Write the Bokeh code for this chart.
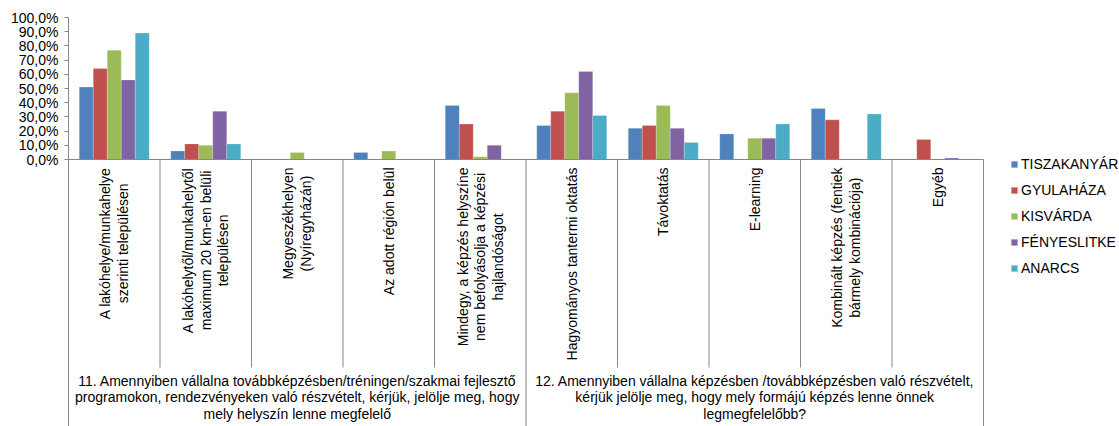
import math

from bokeh.core.properties import value
from bokeh.embed import file_html
from bokeh.models import (ColumnDataSource, CustomJSTickFormatter, FixedTicker,
                          Legend, LegendItem, Range1d)
from bokeh.plotting import figure
from bokeh.resources import INLINE

# --- data -------------------------------------------------------------------
categories = [
    "A lakóhelye/munkahelye\nszerinti településen",
    "A lakóhelytől/munkahelytől\nmaximum 20 km-en belüli\ntelepülésen",
    "Megyeszékhelyen\n(Nyíregyházán)",
    "Az adott régión belül",
    "Mindegy, a képzés helyszíne\nnem befolyásolja a képzési\nhajlandóságot",
    "Hagyományos tantermi oktatás",
    "Távoktatás",
    "E-learning",
    "Kombinált képzés (fentiek\nbármely kombinációja)",
    "Egyéb",
]
group_labels = [
    "11. Amennyiben vállalna továbbképzésben/tréningen/szakmai fejlesztő\n"
    "programokon, rendezvényeken való részvételt, kérjük, jelölje meg, hogy\n"
    "mely helyszín lenne megfelelő",
    "12. Amennyiben vállalna képzésben /továbbképzésben való részvételt,\n"
    "kérjük jelölje meg, hogy mely formájú képzés lenne önnek\n"
    "legmegfelelőbb?",
]
group_sizes = [5, 5]

series_names = ["TISZAKANYÁR", "GYULAHÁZA", "KISVÁRDA", "FÉNYESLITKE", "ANARCS"]
tiszakanyar = [51, 6, 0, 5, 38, 24, 22, 18, 36, 0]
gyulahaza = [64, 11, 0, 0, 25, 34, 24, 0, 28, 14]
kisvarda = [77, 10, 5, 6, 2, 47, 38, 15, 0, 0]
fenyeslitke = [56, 34, 0, 0, 10, 62, 22, 15, 0, 1]
anarcs = [89, 11, 0, 0, 0, 31, 12, 25, 32, 0]
series_values = [tiszakanyar, gyulahaza, kisvarda, fenyeslitke, anarcs]

y_ticks = list(range(0, 101, 10))

# --- styling / layout -------------------------------------------------------
colors = ["#4F81BD", "#C0504D", "#9BBB59", "#8064A2", "#4BACC6"]
FONT = "Liberation Sans"
AXIS_COLOR = "#868686"

W, H = 1119, 426
LEFT, TOP = 68, 17
CAT_PX = 91.5          # width of one category slot
PLOT_PX = 142          # height of the 0..100 % band
SEP_PX = 208           # depth of the separators between categories
BAR_W = 0.153          # bar width in category units

frame_w = W - LEFT
frame_h = H - TOP
px_per_unit = PLOT_PX / 100.0
y_start = -(frame_h - PLOT_PX) / px_per_unit
sep_bottom = -SEP_PX / px_per_unit
n_cat = len(categories)

p = figure(width=W, height=H, output_backend="svg", toolbar_location=None,
           x_range=Range1d(0, frame_w / CAT_PX), y_range=Range1d(y_start, 100),
           x_axis_location=None, min_border_left=LEFT, min_border_top=TOP,
           min_border_right=0, min_border_bottom=0)
p.outline_line_color = None
p.grid.visible = False
p.background_fill_color = "white"
p.border_fill_color = "white"

# y axis: its line also forms the left edge of the label table
ax = p.yaxis[0]
ax.ticker = FixedTicker(ticks=y_ticks, minor_ticks=[])
ax.formatter = CustomJSTickFormatter(
    code="return tick.toFixed(1).replace('.', ',') + '%';")
ax.axis_line_color = AXIS_COLOR
ax.major_tick_line_color = AXIS_COLOR
ax.major_tick_out = 4
ax.major_tick_in = 0
ax.major_label_standoff = 6
ax.major_label_text_font = FONT
ax.major_label_text_font_size = "14px"
ax.major_label_text_color = "#000000"

# grouped bars
renderers = []
for j, (name, vals) in enumerate(zip(series_names, series_values)):
    xs = [i + 0.5 + (j - (len(series_values) - 1) / 2) * BAR_W
          for i in range(n_cat)]
    src = ColumnDataSource(dict(x=xs, top=vals))
    r = p.vbar(x="x", top="top", bottom=0, width=BAR_W, source=src,
               fill_color=colors[j], line_color="white", line_alpha=0.35,
               line_width=0.6)
    renderers.append((name, r))

# category axis line and separators
p.segment(x0=[0], y0=[0], x1=[n_cat], y1=[0], line_color=AXIS_COLOR,
          line_width=1)
group_edges = []
acc = 0
for g in group_sizes:
    acc += g
    group_edges.append(acc)
inner = [k for k in range(1, n_cat) if k not in group_edges]
p.segment(x0=inner, y0=[0] * len(inner), x1=inner,
          y1=[sep_bottom] * len(inner), line_color=AXIS_COLOR, line_width=1)
p.segment(x0=group_edges, y0=[0] * len(group_edges), x1=group_edges,
          y1=[y_start] * len(group_edges), line_color=AXIS_COLOR, line_width=1)

# rotated category labels
cat_src = ColumnDataSource(dict(x=[i + 0.5 for i in range(n_cat)],
                                y=[0] * n_cat, text=categories))
p.text(x="x", y="y", text="text", source=cat_src, angle=math.pi / 2,
       y_offset=8, anchor=value("center_right"), text_align="center",
       text_baseline="middle", text_font=value(FONT), text_font_size="14px",
       text_line_height=1.1, text_color="#000000")

# question labels under each group
starts = [0] + group_edges[:-1]
grp_src = ColumnDataSource(dict(
    x=[(s + e) / 2 for s, e in zip(starts, group_edges)],
    y=[sep_bottom] * len(group_labels), text=group_labels))
p.text(x="x", y="y", text="text", source=grp_src, y_offset=5,
       anchor=value("top_center"), text_align="center", text_baseline="top",
       text_font=value(FONT), text_font_size="14px", text_line_height=1.05,
       text_color="#000000")

legend = Legend(items=[LegendItem(label=n, renderers=[r]) for n, r in renderers],
                location=(942, 148), glyph_width=8, glyph_height=8,
                label_standoff=3, spacing=6, label_height=20, padding=0,
                margin=0, border_line_color=None, background_fill_alpha=0,
                label_text_font=FONT, label_text_font_size="14px",
                label_text_color="#000000")
p.add_layout(legend)

open("out.html", "w").write(file_html(p, INLINE))
